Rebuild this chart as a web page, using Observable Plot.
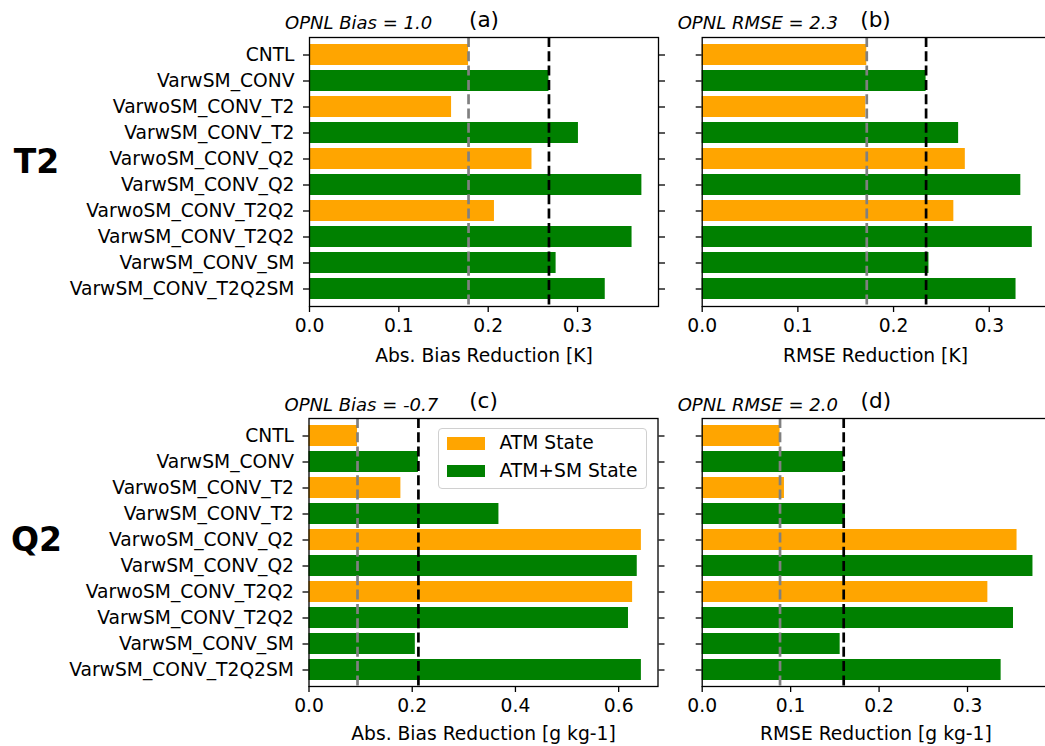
<!DOCTYPE html>
<html><head><meta charset="utf-8">
<script src="https://cdn.jsdelivr.net/npm/d3@7"></script>
<script src="https://cdn.jsdelivr.net/npm/@observablehq/plot@0.6"></script>
<style>
html,body{margin:0;padding:0;background:#fff;overflow:hidden}
#fig{position:relative;width:1045px;height:746px;overflow:hidden;background:#fff;font-family:"DejaVu Sans",sans-serif}
.panel{position:absolute}
.panel svg{max-width:none !important}
.legend{position:absolute;box-sizing:border-box;border:1px solid #d0d0d0;border-radius:4px;background:rgba(255,255,255,0.85);font-size:18.7px;color:#000}
.legend .sw{position:absolute;width:38px;height:12.5px}
.legend .lb{position:absolute;line-height:1;white-space:nowrap}
</style></head><body><div id="fig"></div>
<script>
const categories = ["CNTL","VarwSM_CONV","VarwoSM_CONV_T2","VarwSM_CONV_T2","VarwoSM_CONV_Q2","VarwSM_CONV_Q2","VarwoSM_CONV_T2Q2","VarwSM_CONV_T2Q2","VarwSM_CONV_SM","VarwSM_CONV_T2Q2SM"];
const stateType = ["ATM State","ATM+SM State","ATM State","ATM+SM State","ATM State","ATM+SM State","ATM State","ATM+SM State","ATM+SM State","ATM+SM State"];
const stateNames = ["ATM State","ATM+SM State"];
const stateColors = ["#FFA500","#008000"];

const t2Bias = [0.178, 0.268, 0.159, 0.301, 0.249, 0.372, 0.207, 0.361, 0.276, 0.331];
const t2Rmse = [0.172, 0.234, 0.171, 0.268, 0.275, 0.333, 0.263, 0.345, 0.237, 0.328];
const q2Bias = [0.094, 0.212, 0.178, 0.368, 0.644, 0.636, 0.627, 0.619, 0.206, 0.644];
const q2Rmse = [0.088, 0.160, 0.093, 0.162, 0.356, 0.374, 0.323, 0.352, 0.156, 0.338];

const ticksK = [0, 0.1, 0.2, 0.3];
const ticksQBias = [0, 0.2, 0.4, 0.6];
const ticksQRmse = [0, 0.1, 0.2, 0.3];

const panelTags = ["(a)","(b)","(c)","(d)"];
const opnlLabels = ["OPNL Bias = 1.0","OPNL RMSE = 2.3","OPNL Bias = -0.7","OPNL RMSE = 2.0"];
const xLabels = ["Abs. Bias Reduction [K]","RMSE Reduction [K]","Abs. Bias Reduction [g kg-1]","RMSE Reduction [g kg-1]"];
const rowLabels = ["T2","Q2"];

const fig = document.getElementById("fig");
const FONT = "DejaVu Sans";
const FS = 18.7;

function panel(cfg) {
  const {values, xTicks, xLabel, opnl, tag, rowLabel, rowDy, showY, left, top, width, height, margins, labelDy, tagDy, opnlDy} = cfg;
  const data = categories.map((c, i) => ({cat: c, type: stateType[i], value: values[i]}));
  const xmax = d3.max(values) * 1.05;
  const marks = [
    Plot.barX(data, {x: "value", y: "cat", fill: "type"}),
    Plot.ruleX([values[0]], {stroke: "#808080", strokeWidth: 2.7, strokeDasharray: "10,4.3"}),
    Plot.ruleX([values[1]], {stroke: "#000000", strokeWidth: 2.7, strokeDasharray: "10,4.3"}),
    Plot.axisY({anchor: "left", tickSize: 6, tickPadding: 9, tickFormat: showY ? (d => d) : (() => ""), fontSize: FS, strokeWidth: 1.3, label: null}),
    Plot.axisY({anchor: "right", tickSize: 6, tickPadding: 4, tickFormat: () => "", strokeWidth: 1.3, label: null}),
    Plot.axisX({ticks: xTicks, tickFormat: ".1f", tickSize: 6, tickPadding: 6, fontSize: FS, strokeWidth: 1.3, label: null}),
    Plot.frame({stroke: "#000", strokeWidth: 1.3}),
    Plot.text([xLabel], {text: d => d, frameAnchor: "bottom", dy: labelDy, lineAnchor: "bottom", fontSize: FS, fill: "#000"}),
    Plot.text([tag], {text: d => d, frameAnchor: "top", dy: tagDy, lineAnchor: "bottom", fontSize: 21.6, fill: "#000"}),
    Plot.text([opnl], {text: d => d, frameAnchor: "top-left", dx: -24.5, dy: opnlDy, lineAnchor: "bottom", textAnchor: "start", fontSize: 18, fontStyle: "italic", fill: "#000"})
  ];
  if (rowLabel) {
    marks.push(Plot.text([rowLabel], {text: d => d, frameAnchor: "left", dx: 36 - margins[3], dy: rowDy, lineAnchor: "bottom", textAnchor: "middle", fontSize: 33, fontWeight: "bold", fill: "#000"}));
  }
  const svg = Plot.plot({
    width, height,
    marginTop: margins[0], marginRight: margins[1], marginBottom: margins[2], marginLeft: margins[3],
    style: {fontFamily: FONT, fontSize: FS + "px", background: "transparent", overflow: "visible", maxWidth: "none"},
    x: {domain: [0, xmax]},
    y: {domain: categories, paddingInner: 0.2, paddingOuter: 0.11, align: 0.5},
    color: {domain: stateNames, range: stateColors},
    marks
  });
  const wrap = document.createElement("div");
  wrap.className = "panel";
  wrap.style.left = left + "px";
  wrap.style.top = top + "px";
  wrap.style.width = width + "px";
  wrap.style.height = height + "px";
  wrap.appendChild(svg);
  fig.appendChild(wrap);
}

panel({values: t2Bias, xTicks: ticksK, xLabel: xLabels[0], opnl: opnlLabels[0], tag: panelTags[0], rowLabel: rowLabels[0], rowDy: 0.5, showY: true,
  left: 0, top: 0, width: 680, height: 380, margins: [37, 22, 74, 309], labelDy: 55, tagDy: -11, opnlDy: -9});
panel({values: t2Rmse, xTicks: ticksK, xLabel: xLabels[1], opnl: opnlLabels[1], tag: panelTags[1], showY: false,
  left: 680, top: 0, width: 400, height: 380, margins: [37, 31.7, 74, 21.7], labelDy: 55, tagDy: -11, opnlDy: -9});
panel({values: q2Bias, xTicks: ticksQBias, xLabel: xLabels[2], opnl: opnlLabels[2], tag: panelTags[2], rowLabel: rowLabels[1], rowDy: -2, showY: true,
  left: 0, top: 380, width: 680, height: 366, margins: [38, 22.5, 60, 308.5], labelDy: 53, tagDy: -11, opnlDy: -8});
panel({values: q2Rmse, xTicks: ticksQRmse, xLabel: xLabels[3], opnl: opnlLabels[3], tag: panelTags[3], showY: false,
  left: 680, top: 380, width: 400, height: 366, margins: [38, 31, 60, 21.7], labelDy: 53, tagDy: -11, opnlDy: -8});

// legend inside panel (c)
const lg = document.createElement("div");
lg.className = "legend";
lg.style.left = "438px"; lg.style.top = "427.5px"; lg.style.width = "209px"; lg.style.height = "61px";
stateNames.forEach((name, i) => {
  const sw = document.createElement("div");
  sw.className = "sw";
  sw.style.left = "7.5px"; sw.style.top = (8.5 + i * 27.5) + "px";
  sw.style.background = stateColors[i];
  lg.appendChild(sw);
  const lb = document.createElement("div");
  lb.className = "lb";
  lb.style.left = "60.5px"; lb.style.top = (5.5 + i * 27.5) + "px";
  lb.textContent = name;
  lg.appendChild(lb);
});
fig.appendChild(lg);
</script></body></html>
